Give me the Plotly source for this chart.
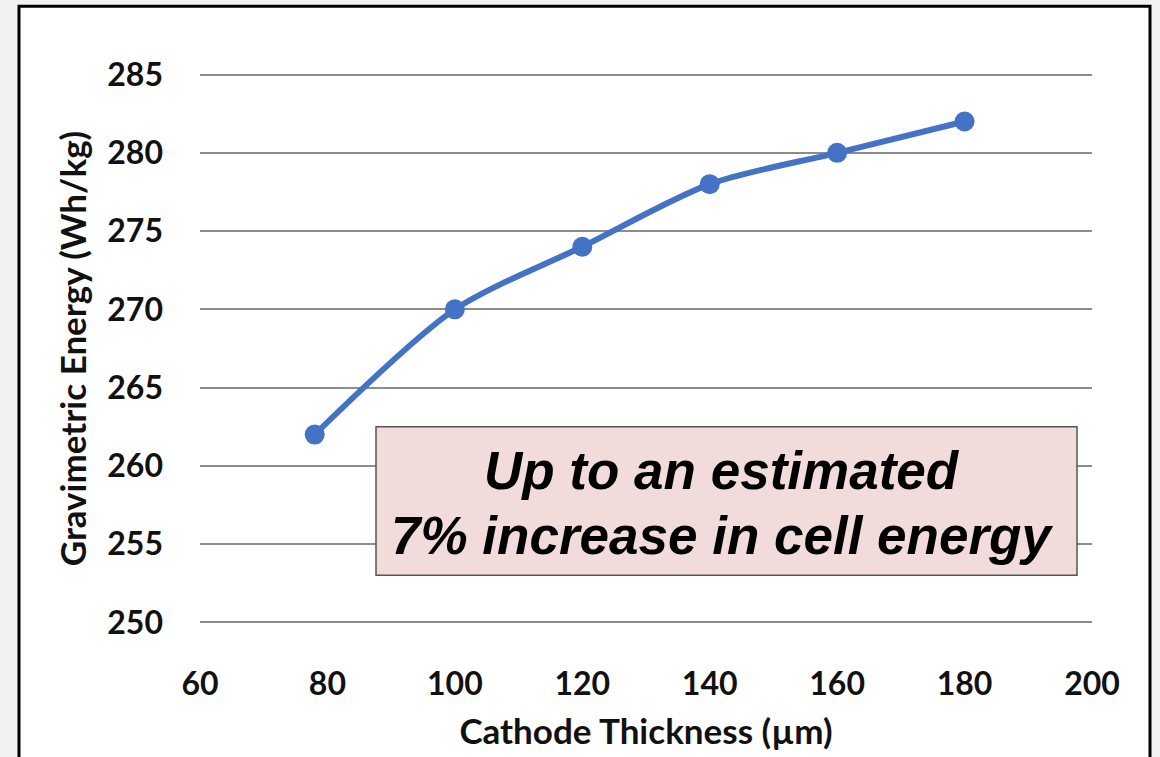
import plotly.graph_objects as go

# Cathode thickness (µm) vs. gravimetric cell energy (Wh/kg)
thickness_um = [78, 100, 120, 140, 160, 180]
energy_wh_kg = [262, 270, 274, 278, 280, 282]

x_ticks = [60, 80, 100, 120, 140, 160, 180, 200]
y_ticks = [250, 255, 260, 265, 270, 275, 280, 285]

callout_lines = ["Up to an estimated", "7% increase in cell energy"]

W, H = 1160, 757
L, R, T, B = 200, 68, 73, 131
pw, ph = W - L - R, H - T - B


def px_to_paper_x(px):
    return (px - L) / pw


def px_to_paper_y(py):
    return (H - B - py) / ph


tick_font = dict(family="Lato, Calibri, Carlito, sans-serif", size=32, color="#111111", weight="bold")
title_font = dict(family="Lato, Calibri, Carlito, sans-serif", size=35, color="#111111", weight="bold")

fig = go.Figure()

fig.add_trace(go.Scatter(
    x=thickness_um,
    y=energy_wh_kg,
    mode="lines+markers",
    line=dict(color="#4472C4", width=6, shape="spline", smoothing=0.8),
    marker=dict(color="#4472C4", size=20),
    showlegend=False,
    cliponaxis=False,
))

shapes = [
    # outer frame of the chart card
    dict(type="rect", xref="paper", yref="paper",
         x0=px_to_paper_x(19), x1=px_to_paper_x(1150),
         y0=px_to_paper_y(790), y1=px_to_paper_y(6),
         line=dict(color="#000000", width=3), fillcolor="#ffffff", layer="below"),
    # callout box
    dict(type="rect", xref="paper", yref="paper",
         x0=px_to_paper_x(376), x1=px_to_paper_x(1077),
         y0=px_to_paper_y(577), y1=px_to_paper_y(428),
         line=dict(color="#555555", width=1.5), fillcolor="#F2DCDB", layer="above"),
]

annotations = []
for text, py in zip(callout_lines, [472, 537]):
    annotations.append(dict(
        xref="paper", yref="paper",
        x=px_to_paper_x(722), y=px_to_paper_y(py),
        text=text, showarrow=False, xanchor="center", yanchor="middle",
        font=dict(family="Liberation Sans, Arial, sans-serif", size=53,
                  color="#000000", weight="bold", style="italic"),
    ))

fig.update_layout(
    width=W, height=H,
    margin=dict(l=L, r=R, t=T, b=B, pad=0),
    paper_bgcolor="#f1f1f1",
    plot_bgcolor="rgba(0,0,0,0)",
    shapes=shapes,
    annotations=annotations,
    xaxis=dict(
        range=[60, 200], tickvals=x_ticks, ticktext=[str(v) for v in x_ticks],
        showgrid=False, zeroline=False, showline=False,
        ticks="", ticklabelstandoff=38, tickfont=tick_font,
        title=dict(text="Cathode Thickness (µm)", font=title_font, standoff=18),
    ),
    yaxis=dict(
        range=[249.9, 285.1], tickvals=y_ticks, ticktext=[str(v) for v in y_ticks],
        showgrid=True, gridcolor="#8c8c8c", gridwidth=2,
        zeroline=False, showline=False,
        ticks="", ticklabelstandoff=36, tickfont=tick_font,
        title=dict(text="Gravimetric Energy (Wh/kg)", font=title_font, standoff=10),
    ),
)

fig.write_html("out.html")
